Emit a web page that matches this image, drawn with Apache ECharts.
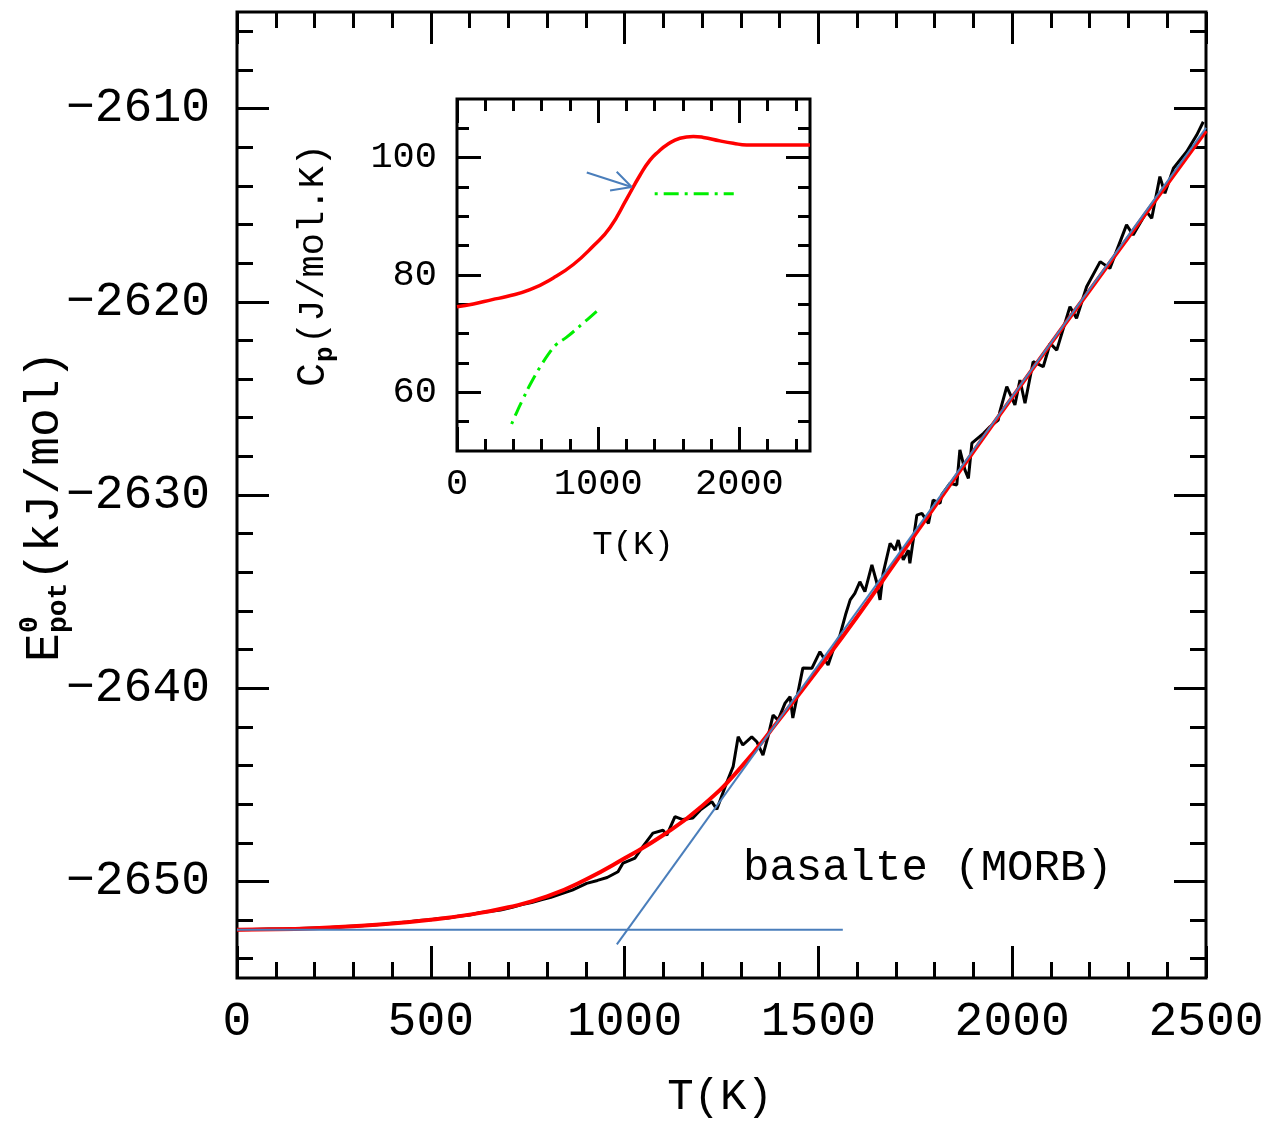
<!DOCTYPE html>
<html><head><meta charset="utf-8">
<script src="https://cdn.jsdelivr.net/npm/echarts@6/dist/echarts.min.js"></script>
<style>html,body{margin:0;padding:0;background:#fff}#c{width:1271px;height:1125px}</style>
</head><body><div id="c"></div>
<script>
// ---- tick values ----
const mainXMajor = [0, 500, 1000, 1500, 2000, 2500];
const mainXMinor = [100,200,300,400,600,700,800,900,1100,1200,1300,1400,1600,1700,1800,1900,2100,2200,2300,2400];
const mainYMajor = [-2650, -2640, -2630, -2620, -2610];
const mainYMinor = [-2654,-2652,-2648,-2646,-2644,-2642,-2638,-2636,-2634,-2632,-2628,-2626,-2624,-2622,-2618,-2616,-2614,-2612,-2608,-2606];
const insetXMajor = [0, 1000, 2000];
const insetXMinor = [200,400,600,800,1200,1400,1600,1800,2200,2400];
const insetYMajor = [60, 80, 100];
const insetYMinor = [55,65,70,75,85,90,95,105];

// ---- main panel: MD potential energy (black) ----
const mdT = [0,40,80,120,160,200,240,280,320,360,400,440,470,500,520,545,570,600,625,650,680,710,735,760,785,810,840,865,902,930,955,983,996,1027,1047,1073,1099,1109,1130,1150,1176,1195,1225,1238,1263,1280,1293,1305,1328,1341,1357,1370,1383,1396,1414,1427,1434,1460,1483,1504,1525,1538,1555,1570,1582,1594,1607,1620,1638,1650,1659,1667,1685,1698,1706,1719,1732,1736,1754,1767,1784,1796,1814,1818,1840,1857,1865,1878,1887,1896,1926,1943,1964,1968,1986,2007,2020,2033,2054,2080,2098,2115,2149,2166,2192,2227,2252,2295,2312,2347,2360,2381,2394,2416,2450,2476,2493];
const mdE = [-2652.50,-2652.49,-2652.47,-2652.46,-2652.44,-2652.41,-2652.39,-2652.34,-2652.30,-2652.25,-2652.17,-2652.10,-2652.02,-2651.99,-2651.92,-2651.90,-2651.80,-2651.74,-2651.62,-2651.56,-2651.48,-2651.34,-2651.20,-2651.10,-2650.95,-2650.82,-2650.62,-2650.45,-2650.10,-2649.95,-2649.80,-2649.50,-2649.05,-2648.79,-2648.20,-2647.50,-2647.35,-2647.61,-2646.65,-2646.80,-2646.72,-2646.31,-2645.87,-2646.27,-2644.91,-2644.06,-2642.51,-2642.94,-2642.52,-2642.77,-2643.46,-2642.51,-2641.39,-2641.65,-2640.77,-2640.44,-2641.54,-2638.95,-2638.97,-2638.11,-2638.80,-2638.02,-2637.30,-2636.20,-2635.43,-2635.09,-2634.49,-2635.00,-2633.62,-2634.49,-2635.43,-2634.05,-2632.50,-2632.85,-2632.33,-2633.36,-2632.85,-2633.54,-2631.04,-2630.95,-2631.47,-2630.26,-2630.43,-2630.00,-2629.39,-2629.48,-2627.67,-2628.70,-2629.14,-2627.32,-2626.81,-2626.46,-2626.12,-2625.70,-2624.39,-2625.34,-2624.05,-2625.25,-2623.10,-2623.36,-2622.15,-2622.50,-2620.25,-2620.85,-2619.22,-2617.92,-2618.27,-2616.02,-2616.54,-2615.34,-2615.68,-2613.52,-2614.38,-2613.09,-2612.23,-2611.37,-2610.68];

// ---- main panel: smooth fit (red) ----
const fitT = [0,100,200,300,400,500,600,700,800,900,1000,1100,1200,1300,1400,1500,1600,1700,1800,1900,2000,2100,2200,2300,2400,2500];
const fitE = [-2652.50,-2652.48,-2652.42,-2652.32,-2652.18,-2651.98,-2651.72,-2651.34,-2650.78,-2649.90,-2648.80,-2647.60,-2646.10,-2644.10,-2641.60,-2639.00,-2636.30,-2633.45,-2630.60,-2627.75,-2624.95,-2622.15,-2619.40,-2616.65,-2613.90,-2611.15];

// ---- main panel: tangent lines (blue) ----
const lowLineT = [0, 1563];
const lowLineE = [-2652.5, -2652.5];
const highLineT = [980, 2500];
const highLineE = [-2653.26, -2611.0];

// ---- inset: heat capacity ----
const cpT = [0,116,250,352,517,682,824,965,1084,1202,1296,1367,1430,1485,1579,1674,1745,1862,1956,2051,2240,2500];
const cpVal = [74.6,75.07,75.8,76.33,77.49,79.5,81.79,84.94,88.11,92.99,97.0,99.59,101.1,102.17,103.32,103.62,103.45,102.86,102.46,102.17,102.17,102.17];
const expLowT = [387,423,470,517,588,650,700,777,894,989];
const expLowCp = [54.6,56.6,59.0,61.3,64.3,66.6,68.1,69.4,71.8,73.8];
const expHighT = [1400, 1960];
const expHighCp = [93.85, 93.85];
// arrow annotation (shaft and head), in inset data units
const arrowShaftT = [919, 1237];
const arrowShaftCp = [97.47, 95.0];
const arrowHeadT = [1131, 1237, 1084];
const arrowHeadCp = [97.59, 95.0, 94.42];

const zip = (a, b) => a.map((v, i) => [v, b[i]]);
const FONT = '"Liberation Mono", "DejaVu Sans Mono", monospace';

const plain = v => String(v);
const minus = v => (v < 0 ? '\u2212' + Math.abs(v) : String(v));

function axis(gridIndex, position, min, max, ticks, len, label) {
  return {
    type: 'value', gridIndex, position, min, max,
    axisLine: { show: false, onZero: false },
    splitLine: { show: false },
    axisTick: { show: true, inside: true, length: len, customValues: ticks,
      lineStyle: { color: '#000', width: 3 } },
    axisLabel: label ? Object.assign({ customValues: ticks, formatter: plain }, label) : { show: false }
  };
}

const xAxis = [
  axis(0, 'bottom', 0, 2500, mainXMajor, 32, { fontFamily: FONT, fontSize: 48, color: '#000', margin: 20 }),
  axis(0, 'bottom', 0, 2500, mainXMinor, 16),
  axis(0, 'top', 0, 2500, mainXMajor, 32),
  axis(0, 'top', 0, 2500, mainXMinor, 16),
  axis(1, 'bottom', 0, 2500, insetXMajor, 24, { fontFamily: FONT, fontSize: 37, color: '#000', margin: 15 }),
  axis(1, 'bottom', 0, 2500, insetXMinor, 12),
  axis(1, 'top', 0, 2500, insetXMajor, 24),
  axis(1, 'top', 0, 2500, insetXMinor, 12)
];
const yAxis = [
  axis(0, 'left', -2655, -2605, mainYMajor, 32, { fontFamily: FONT, fontSize: 48, color: '#000', margin: 27, formatter: minus }),
  axis(0, 'left', -2655, -2605, mainYMinor, 16),
  axis(0, 'right', -2655, -2605, mainYMajor, 32),
  axis(0, 'right', -2655, -2605, mainYMinor, 16),
  axis(1, 'left', 50, 110, insetYMajor, 24, { fontFamily: FONT, fontSize: 37, color: '#000', margin: 20 }),
  axis(1, 'left', 50, 110, insetYMinor, 12),
  axis(1, 'right', 50, 110, insetYMajor, 24),
  axis(1, 'right', 50, 110, insetYMinor, 12)
];

const BLUE = '#4a7ebb';
const GREEN = '#00ee00';
const line = (xi, yi, data, color, width, extra) => Object.assign({
  type: 'line', xAxisIndex: xi, yAxisIndex: yi, data, showSymbol: false, symbol: 'none',
  lineStyle: { color, width }, silent: true, animation: false
}, extra || {});

const series = [
  line(0, 0, zip(mdT, mdE), '#000', 3, { z: 2 }),
  line(0, 0, zip(fitT, fitE), '#ff0000', 4, { z: 3, smooth: 0.5 }),
  line(0, 0, zip(lowLineT, lowLineE), BLUE, 2, { z: 4 }),
  line(0, 0, zip(highLineT, highLineE), BLUE, 2, { z: 4 }),
  line(4, 4, zip(cpT, cpVal), '#ff0000', 3.5, { z: 3, smooth: 0.5 }),
  line(4, 4, zip(expLowT, expLowCp), GREEN, 3, { z: 3, smooth: 0.4, lineStyle: { color: GREEN, width: 3, type: [3, 6, 15, 6] } }),
  line(4, 4, zip(expHighT, expHighCp), GREEN, 3, { z: 3, lineStyle: { color: GREEN, width: 3, type: [3, 6, 15, 6] } }),
  line(4, 4, zip(arrowShaftT, arrowShaftCp), BLUE, 2, { z: 4 }),
  line(4, 4, zip(arrowHeadT, arrowHeadCp), BLUE, 2, { z: 4 })
];

const txt = (x, y, text, size, extra) => ({
  type: 'text', x, y, silent: true,
  style: Object.assign({ text, font: size + 'px ' + FONT, fill: '#000',
    align: 'left', verticalAlign: 'middle', textAlign: 'left', textVerticalAlign: 'middle' }, extra || {})
});

const graphic = [
  txt(720, 1097, 'T(K)', 44, { align: 'center', textAlign: 'center' }),
  txt(633, 545, 'T(K)', 34, { align: 'center', textAlign: 'center' }),
  txt(743, 868, 'basalte (MORB)', 44),
  { type: 'group', x: 45, y: 497, rotation: Math.PI / 2, silent: true, children: [
    txt(-165, 0, 'E', 48),
    txt(-136, -15, '0', 28, { font: 'bold 28px ' + FONT }),
    txt(-136, 14, 'pot', 28, { font: 'bold 28px ' + FONT }),
    txt(-84, 0, '(kJ/mol)', 48)
  ]},
  { type: 'group', x: 313, y: 270, rotation: Math.PI / 2, silent: true, children: [
    txt(-117, 0, 'C', 40),
    txt(-92, 12, 'p', 26, { font: 'bold 26px ' + FONT }),
    txt(-74, 0, '(J/mol.K)', 37)
  ]}
];

const chart = echarts.init(document.getElementById('c'), null, { renderer: 'canvas' });
chart.setOption({
  animation: false,
  backgroundColor: '#fff',
  grid: [
    { left: 237, top: 12, width: 969, height: 966, show: true, borderColor: '#000', borderWidth: 3, backgroundColor: 'transparent', containLabel: false, outerBoundsMode: 'none' },
    { left: 457, top: 99, width: 353, height: 352, show: true, borderColor: '#000', borderWidth: 3, backgroundColor: 'transparent', containLabel: false, outerBoundsMode: 'none' }
  ],
  xAxis, yAxis, series, graphic
});
</script>
</body></html>
